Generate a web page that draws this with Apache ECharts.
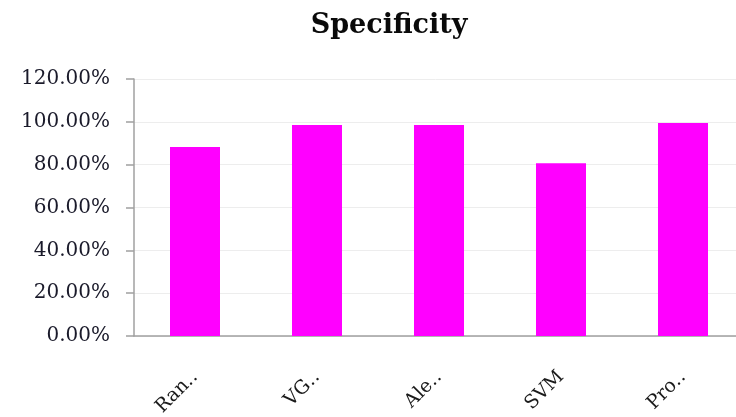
<!DOCTYPE html>
<html>
<head>
<meta charset="utf-8">
<script src="https://cdn.jsdelivr.net/npm/echarts@6/dist/echarts.min.js"></script>
<style>html,body{margin:0;padding:0;background:#fff;}#c{width:736px;height:417px;}</style>
</head>
<body>
<div id="c"></div>
<script>
const titleText = 'Specificity';
const categories = ['Ran\u2025', 'VG\u2025', 'Ale\u2025', 'SVM', 'Pro\u2025'];
const specificity = [0.882, 0.985, 0.985, 0.807, 0.994];
const yMin = 0, yMax = 1.2, yStep = 0.2;

const chart = echarts.init(document.getElementById('c'));
chart.setOption({
  animation: false,
  title: {
    text: titleText,
    left: 384, top: 7, textAlign: 'center',
    textStyle: { fontFamily: 'DejaVu Serif', fontWeight: 'bold', fontSize: 27, color: '#0a0a0a' }
  },
  grid: { left: 134, width: 610, top: 79, bottom: 81, containLabel: false, outerBoundsMode: 'none' },
  xAxis: {
    type: 'category',
    data: categories,
    axisLine: { show: true, lineStyle: { color: '#a0a0a0', width: 1.5 } },
    axisTick: { show: false },
    axisLabel: { rotate: 45, interval: 0, margin: 38, fontFamily: 'DejaVu Serif', fontSize: 19, color: '#1a1a1a' }
  },
  yAxis: {
    type: 'value',
    min: yMin, max: yMax, interval: yStep,
    axisLine: { show: true, lineStyle: { color: '#a0a0a0', width: 1.5 } },
    axisTick: { show: true, length: 8, lineStyle: { color: '#a0a0a0', width: 1.5 } },
    splitLine: { show: true, lineStyle: { color: '#ededed', width: 1 } },
    axisLabel: {
      margin: 24, fontFamily: 'DejaVu Serif', fontSize: 20, color: '#1a1a2a',
      formatter: v => (v * 100).toFixed(2) + '%'
    }
  },
  series: [{
    type: 'bar',
    data: specificity,
    barWidth: 50,
    itemStyle: { color: '#ff00ff' }
  }]
});
</script>
</body>
</html>
